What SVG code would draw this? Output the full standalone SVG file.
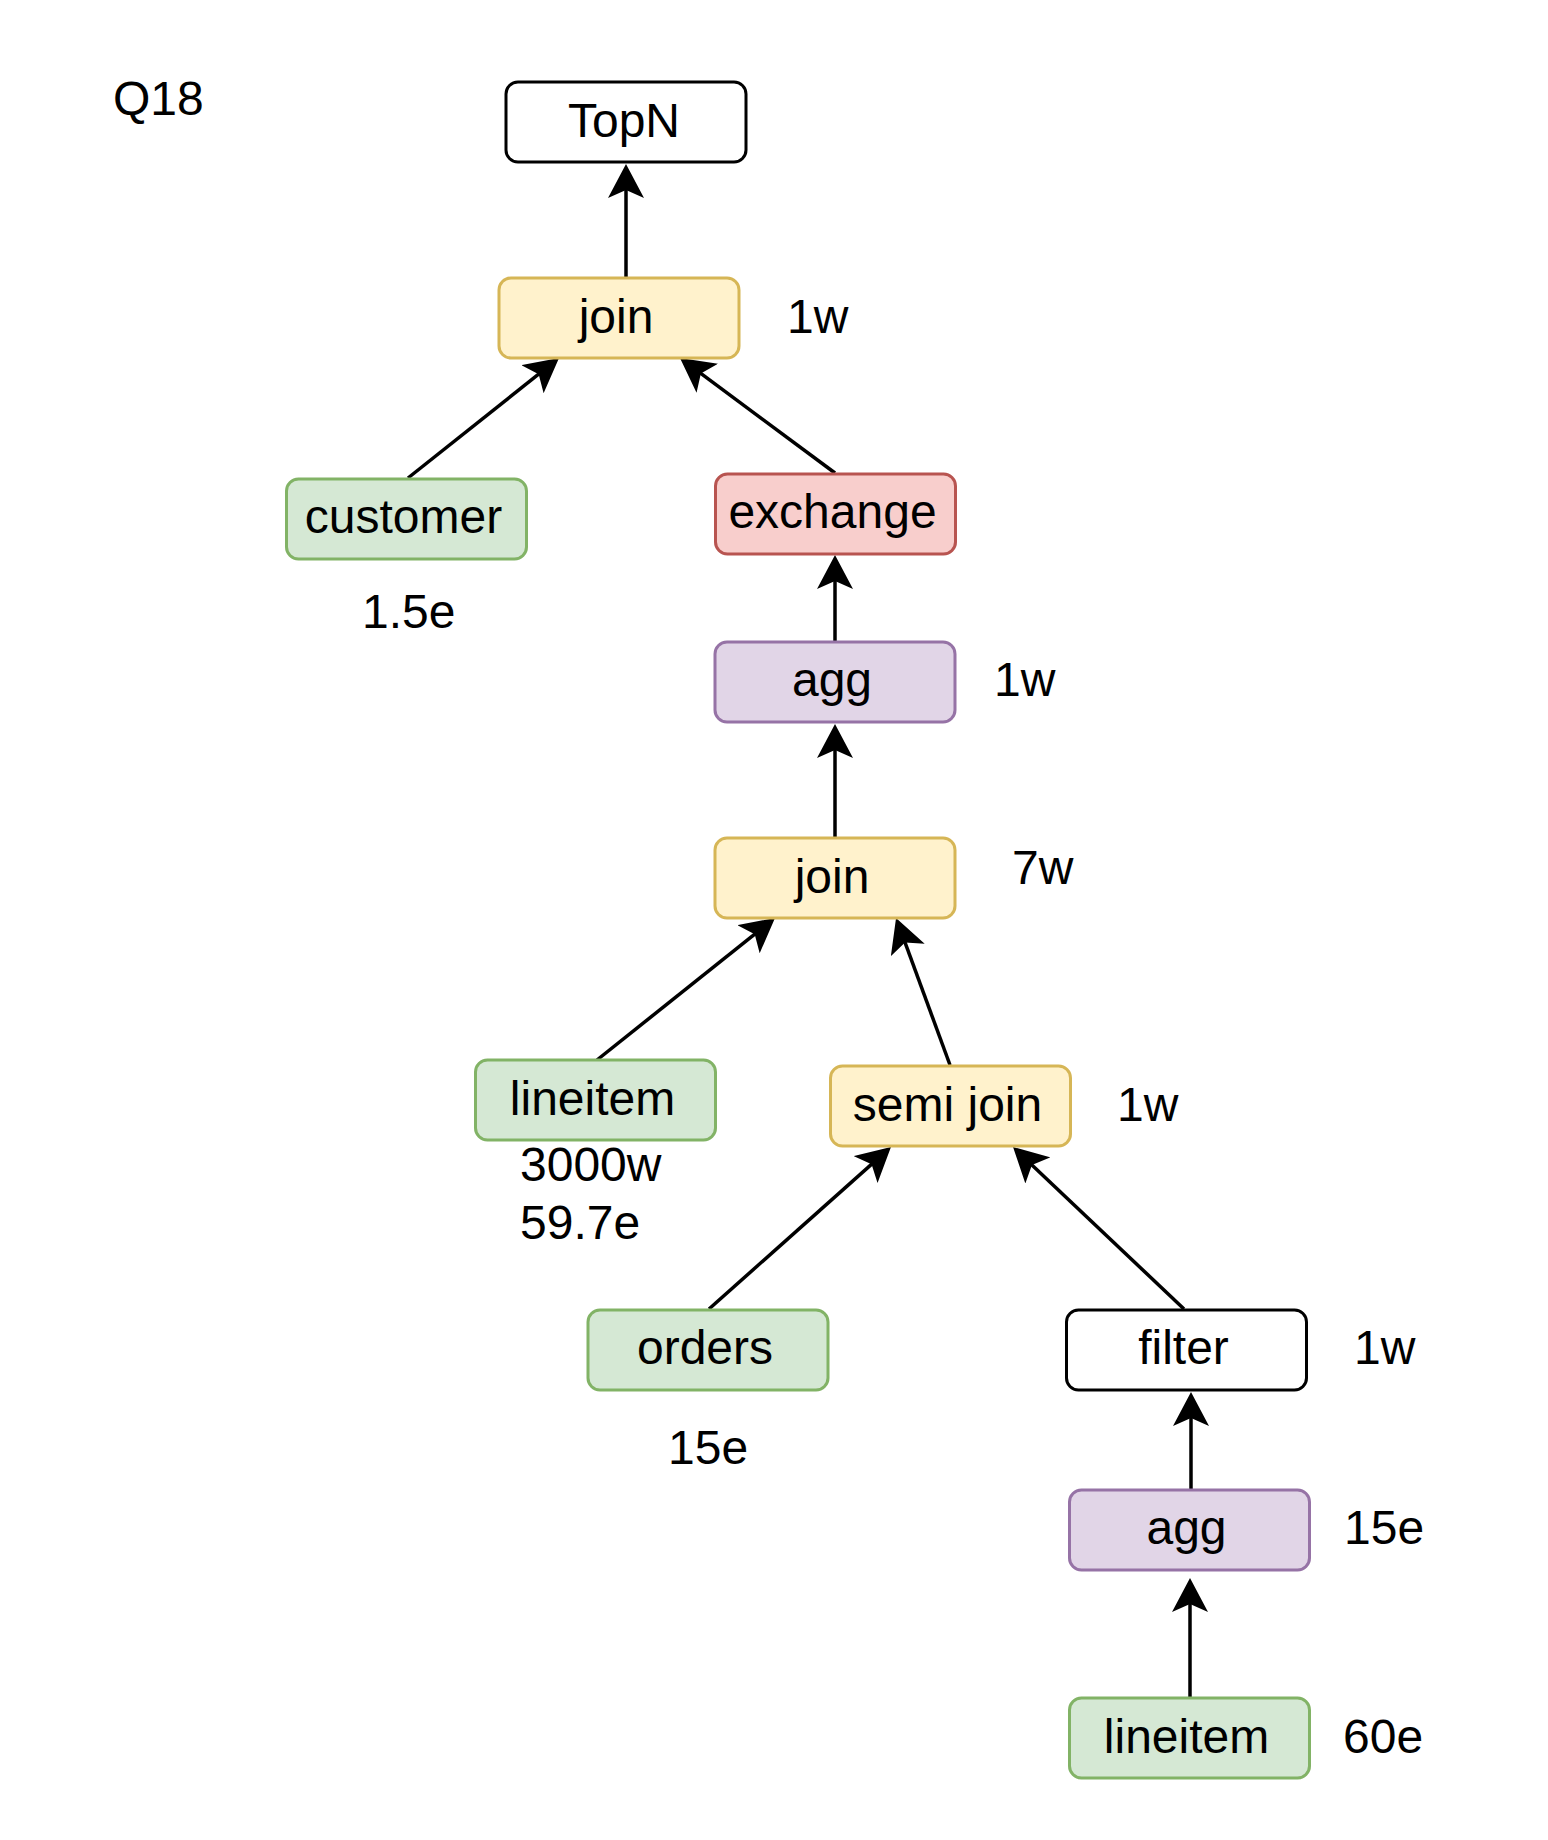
<svg xmlns="http://www.w3.org/2000/svg" width="1548" height="1840" viewBox="0 0 1548 1840">
<style>
text{font-family:"Liberation Sans",Arial,Helvetica,sans-serif;font-size:48px;fill:#000}
.lbl{text-anchor:middle}
rect{stroke-width:3}
.w{fill:#ffffff;stroke:#000000}
.y{fill:#fff2cc;stroke:#d6b656}
.g{fill:#d5e8d4;stroke:#82b366}
.r{fill:#f8cecc;stroke:#b85450}
.p{fill:#e1d5e7;stroke:#9673a6}
.edge{stroke:#000;stroke-width:3.5;fill:none;marker-end:url(#arr)}
</style>
<defs>
<marker id="arr" markerUnits="userSpaceOnUse" viewBox="0 0 34 36" markerWidth="34" markerHeight="36" refX="24" refY="18" orient="auto">
<path d="M34,18 L0,0 L8,18 L0,36 Z" fill="#000"/>
</marker>
</defs>
<rect width="1548" height="1840" fill="#ffffff" stroke="none"/>
<text x="113" y="115">Q18</text>
<g id="connectors">
<line class="edge" x1="626" y1="277" x2="626" y2="174"/>
<line class="edge" x1="408" y1="478" x2="551.2" y2="364.2"/>
<line class="edge" x1="835" y1="473" x2="688" y2="363.9"/>
<line class="edge" x1="835" y1="641" x2="835" y2="565"/>
<line class="edge" x1="835" y1="837" x2="835" y2="734"/>
<line class="edge" x1="597" y1="1060" x2="767.2" y2="924.2"/>
<line class="edge" x1="950" y1="1065" x2="899.5" y2="927.4"/>
<line class="edge" x1="709" y1="1309" x2="883.5" y2="1153.6"/>
<line class="edge" x1="1184" y1="1309" x2="1020.3" y2="1153.9"/>
<line class="edge" x1="1191" y1="1489" x2="1191" y2="1402"/>
<line class="edge" x1="1190" y1="1697" x2="1190" y2="1588"/>
</g>
<g id="topn"><rect class="w" x="506" y="82" width="240" height="80" rx="12"/><text class="lbl" x="624" y="137">TopN</text></g>
<g id="join1"><rect class="y" x="499" y="278" width="240" height="80" rx="12"/><text class="lbl" x="616" y="333">join</text><text x="787" y="333">1w</text></g>
<g id="customer"><rect class="g" x="286.5" y="479" width="240" height="80" rx="12"/><text class="lbl" x="403.5" y="533">customer</text><text x="362" y="628">1.5e</text></g>
<g id="exchange"><rect class="r" x="715.5" y="474" width="240" height="80" rx="12"/><text class="lbl" x="832.5" y="528">exchange</text></g>
<g id="agg1"><rect class="p" x="715" y="642" width="240" height="80" rx="12"/><text class="lbl" x="832" y="696">agg</text><text x="994" y="696">1w</text></g>
<g id="join2"><rect class="y" x="715" y="838" width="240" height="80" rx="12"/><text class="lbl" x="832" y="893">join</text><text x="1012" y="884">7w</text></g>
<g id="lineitem1"><rect class="g" x="475.5" y="1060" width="240" height="80" rx="12"/><text class="lbl" x="592.5" y="1115">lineitem</text><text x="520" y="1181">3000w</text><text x="520" y="1239">59.7e</text></g>
<g id="semijoin"><rect class="y" x="830.5" y="1066" width="240" height="80" rx="12"/><text class="lbl" x="947.5" y="1121">semi join</text><text x="1117" y="1121">1w</text></g>
<g id="orders"><rect class="g" x="588" y="1310" width="240" height="80" rx="12"/><text class="lbl" x="705" y="1364">orders</text><text x="668" y="1464">15e</text></g>
<g id="filter"><rect class="w" x="1066.5" y="1310" width="240" height="80" rx="12"/><text class="lbl" x="1183.5" y="1364">filter</text><text x="1354" y="1364">1w</text></g>
<g id="agg2"><rect class="p" x="1069.5" y="1490" width="240" height="80" rx="12"/><text class="lbl" x="1186.5" y="1544">agg</text><text x="1344" y="1544">15e</text></g>
<g id="lineitem2"><rect class="g" x="1069.5" y="1698" width="240" height="80" rx="12"/><text class="lbl" x="1186.5" y="1753">lineitem</text><text x="1343" y="1753">60e</text></g>
</svg>
